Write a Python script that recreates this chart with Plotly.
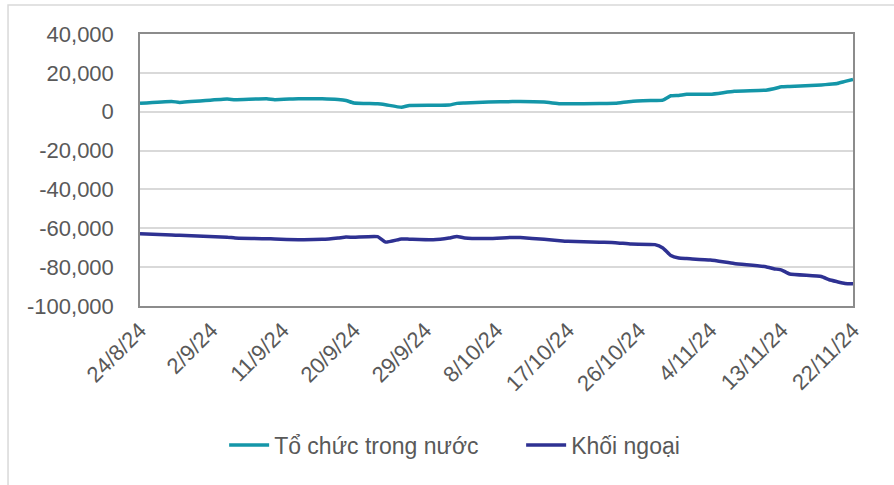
import plotly.graph_objects as go

dates = ["2024-08-24", "2024-08-28", "2024-08-29", "2024-09-04", "2024-09-05", "2024-09-09",
         "2024-09-10", "2024-09-13", "2024-09-16", "2024-09-18", "2024-09-19", "2024-09-20",
         "2024-09-23", "2024-09-24", "2024-09-26", "2024-09-27", "2024-09-30", "2024-10-02",
         "2024-10-03", "2024-10-04", "2024-10-07", "2024-10-10", "2024-10-11", "2024-10-14",
         "2024-10-16", "2024-10-17", "2024-10-21", "2024-10-23", "2024-10-25", "2024-10-28",
         "2024-10-29", "2024-10-30", "2024-10-31", "2024-11-01", "2024-11-04", "2024-11-07",
         "2024-11-11", "2024-11-12", "2024-11-13", "2024-11-14", "2024-11-18", "2024-11-19",
         "2024-11-20", "2024-11-21", "2024-11-22"]

to_chuc_trong_nuoc = [4300, 5300, 4800, 6500, 6200, 6700,
                      6200, 6700, 6700, 6300, 5800, 4500,
                      4100, 3600, 2300, 3200, 3300, 3400,
                      4300, 4500, 5000, 5200, 5300, 5000,
                      4100, 4100, 4200, 4300, 5300, 5800,
                      6000, 8200, 8400, 9000, 9000, 10500,
                      11100, 11800, 12800, 13000, 13800, 14100,
                      14500, 15600, 16600]

khoi_ngoai = [-62800, -63500, -63600, -64600, -65000, -65400,
              -65500, -65900, -65700, -65000, -64500, -64600,
              -64300, -67100, -65500, -65600, -65900, -65000,
              -64200, -65000, -65300, -64700, -64800, -65700,
              -66400, -66700, -67200, -67400, -68100, -68400,
              -70100, -74000, -75300, -75600, -76300, -78100,
              -79800, -80800, -81500, -83500, -84800, -86500,
              -87500, -88400, -88600]

series_names = ["Tổ chức trong nước", "Khối ngoại"]

x_tick_dates = ["2024-08-24", "2024-09-02", "2024-09-11", "2024-09-20", "2024-09-29",
                "2024-10-08", "2024-10-17", "2024-10-26", "2024-11-04", "2024-11-13",
                "2024-11-22"]
x_tick_labels = ["24/8/24", "2/9/24", "11/9/24", "20/9/24", "29/9/24", "8/10/24",
                 "17/10/24", "26/10/24", "4/11/24", "13/11/24", "22/11/24"]

y_tick_values = [40000, 20000, 0, -20000, -40000, -60000, -80000, -100000]
y_tick_labels = ["40,000", "20,000", "0", "-20,000", "-40,000", "-60,000", "-80,000", "-100,000"]

FONT = "Liberation Sans, Arial, sans-serif"
GRAY = "#595959"

fig = go.Figure()
fig.add_trace(go.Scatter(x=dates, y=to_chuc_trong_nuoc, name=series_names[0], mode="lines",
                         line=dict(color="#1496a8", width=3.5, shape="spline", smoothing=0.4)))
fig.add_trace(go.Scatter(x=dates, y=khoi_ngoai, name=series_names[1], mode="lines",
                         line=dict(color="#2e3192", width=3.5, shape="spline", smoothing=0.4)))

fig.update_layout(
    width=894, height=485,
    margin=dict(l=140, r=41, t=34, b=179, autoexpand=False),
    paper_bgcolor="white", plot_bgcolor="white",
    font=dict(family=FONT, color=GRAY, size=22),
    showlegend=True,
    legend=dict(orientation="h", x=0.118, xanchor="left", y=-0.511, yanchor="middle",
                font=dict(family=FONT, size=23, color=GRAY), itemwidth=40,
                entrywidth=242, entrywidthmode="pixels",
                traceorder="normal"),
    shapes=[dict(type="rect", xref="paper", yref="paper",
                 x0=-0.1851, x1=1.08, y0=-0.70, y1=1.1066,
                 line=dict(color="#d9d9d9", width=1.5), layer="below")],
)

fig.update_xaxes(type="date", range=["2024-08-24", "2024-11-22"],
                 tickvals=x_tick_dates, ticktext=x_tick_labels, tickangle=-45,
                 tickfont=dict(family=FONT, size=22, color=GRAY),
                 showgrid=False, showline=True, linecolor="#8c8c8c", linewidth=1.5, mirror=True,
                 ticks="outside", ticklen=1, tickcolor="rgba(0,0,0,0)", zeroline=False)
fig.update_yaxes(range=[-100000, 40000], tickvals=y_tick_values, ticktext=y_tick_labels,
                 tickfont=dict(family=FONT, size=22, color=GRAY),
                 showgrid=True, gridcolor="#d9d9d9", gridwidth=1.5,
                 showline=True, linecolor="#8c8c8c", linewidth=1.5, mirror=True,
                 ticks="outside", ticklen=20, tickcolor="rgba(0,0,0,0)", zeroline=False)

fig.write_html("out.html", config={"displayModeBar": False},
               post_script="document.body.style.margin='0';")
